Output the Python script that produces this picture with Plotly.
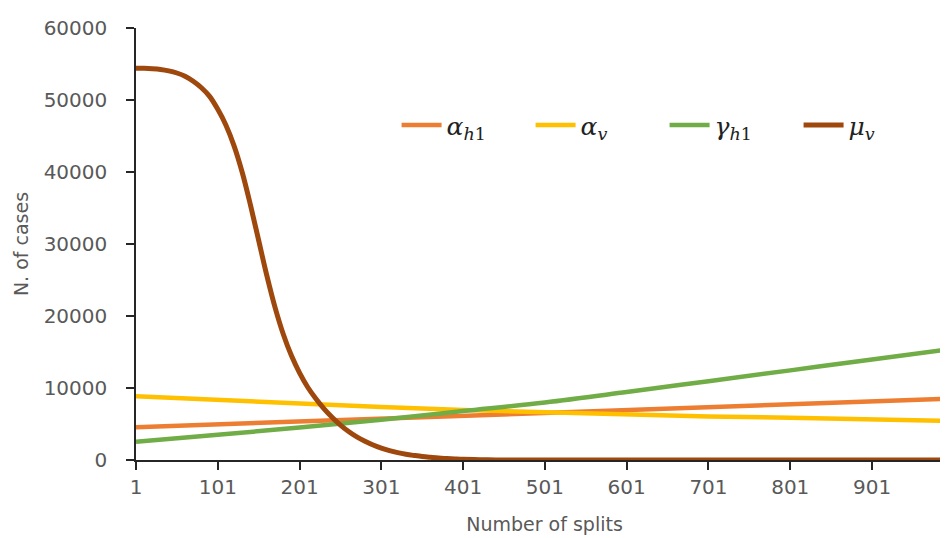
import plotly.graph_objects as go

# x positions (number of splits) where values were read
x_lin = [1, 101, 201, 301, 401, 501, 601, 701, 801, 901, 1000]

alpha_h1 = [4550, 4950, 5350, 5750, 6150, 6550, 6980, 7380, 7760, 8150, 8520]
alpha_v = [8850, 8300, 7800, 7350, 6950, 6600, 6250, 6050, 5880, 5650, 5400]
gamma_h1 = [2550, 3500, 4500, 5600, 6800, 8000, 9450, 10950, 12450, 13950, 15450]

x_mu = [1, 11, 21, 31, 41, 51, 61, 71, 81, 91, 101, 111, 121, 131, 141, 151,
        161, 171, 181, 191, 201, 211, 221, 231, 241, 251, 261, 271, 281, 291,
        301, 311, 321, 331, 341, 351, 361, 371, 381, 391, 401, 421, 441, 461,
        600, 800, 1000]
mu_v = [54400, 54400, 54350, 54250, 54050, 53750, 53300, 52600, 51700, 50500,
        48700, 46500, 43600, 39900, 35400, 30500, 25600, 21200, 17500, 14500,
        12100, 10100, 8500, 7100, 5900, 4850, 3950, 3200, 2600, 2080, 1650,
        1300, 1020, 800, 630, 480, 370, 270, 200, 140, 90, 40, 15, 0,
        0, 0, 0]

x_tick_vals = [1, 101, 201, 301, 401, 501, 601, 701, 801, 901, 1000]
x_tick_text = ["1", "101", "201", "301", "401", "501", "601", "701", "801", "901", ""]
y_tick_vals = [0, 10000, 20000, 30000, 40000, 50000, 60000]
y_tick_text = ["0", "10000", "20000", "30000", "40000", "50000", "60000"]

names = [
    "<i>α</i><sub><i>h</i>1</sub>",
    "<i>α</i><sub><i>v</i></sub>",
    "<i>γ</i><sub><i>h</i>1</sub>",
    "<i>μ</i><sub><i>v</i></sub>",
]
colors = ["#ED7D31", "#FFC000", "#70AD47", "#9E480E"]

fig = go.Figure()
fig.add_trace(go.Scatter(x=x_lin, y=alpha_h1, mode="lines", name=names[0],
                         line=dict(color=colors[0], width=4.5)))
fig.add_trace(go.Scatter(x=x_lin, y=alpha_v, mode="lines", name=names[1],
                         line=dict(color=colors[1], width=4.5)))
fig.add_trace(go.Scatter(x=x_lin, y=gamma_h1, mode="lines", name=names[2],
                         line=dict(color=colors[2], width=4.5, shape="spline")))
fig.add_trace(go.Scatter(x=x_mu, y=mu_v, mode="lines", name=names[3],
                         line=dict(color=colors[3], width=5, shape="spline", smoothing=1)))

tick_font = dict(family="DejaVu Sans", size=20, color="#595959")
title_font = dict(family="DejaVu Sans", size=19, color="#595959")

fig.update_layout(
    width=948, height=538,
    margin=dict(l=128, r=3, t=20, b=86),
    plot_bgcolor="white", paper_bgcolor="white",
    showlegend=True,
    legend=dict(orientation="h", x=0.975, y=0.775, xanchor="right", yanchor="middle",
                font=dict(family="DejaVu Serif", size=25, color="#222222"),
                entrywidth=79, bgcolor="rgba(0,0,0,0)", itemwidth=40),
    xaxis=dict(range=[1, 1000], tickmode="array", tickvals=x_tick_vals, ticktext=x_tick_text,
               showgrid=False, zeroline=False, showline=True, linecolor="#262626", linewidth=1.5,
               ticks="outside", ticklen=8, tickcolor="#262626", tickwidth=1.5,
               tickfont=tick_font, automargin=False,
               title=dict(text="Number of splits", font=title_font, standoff=20)),
    yaxis=dict(range=[0, 60000], tickmode="array", tickvals=y_tick_vals, ticktext=y_tick_text,
               showgrid=False, zeroline=False, showline=True, linecolor="#262626", linewidth=1.5,
               ticks="outside", ticklen=8, tickcolor="#262626", tickwidth=1.5,
               ticklabelstandoff=15,
               tickfont=tick_font, automargin=False,
               title=dict(text="N. of cases", font=title_font, standoff=10)),
)

fig.write_html("out.html")
